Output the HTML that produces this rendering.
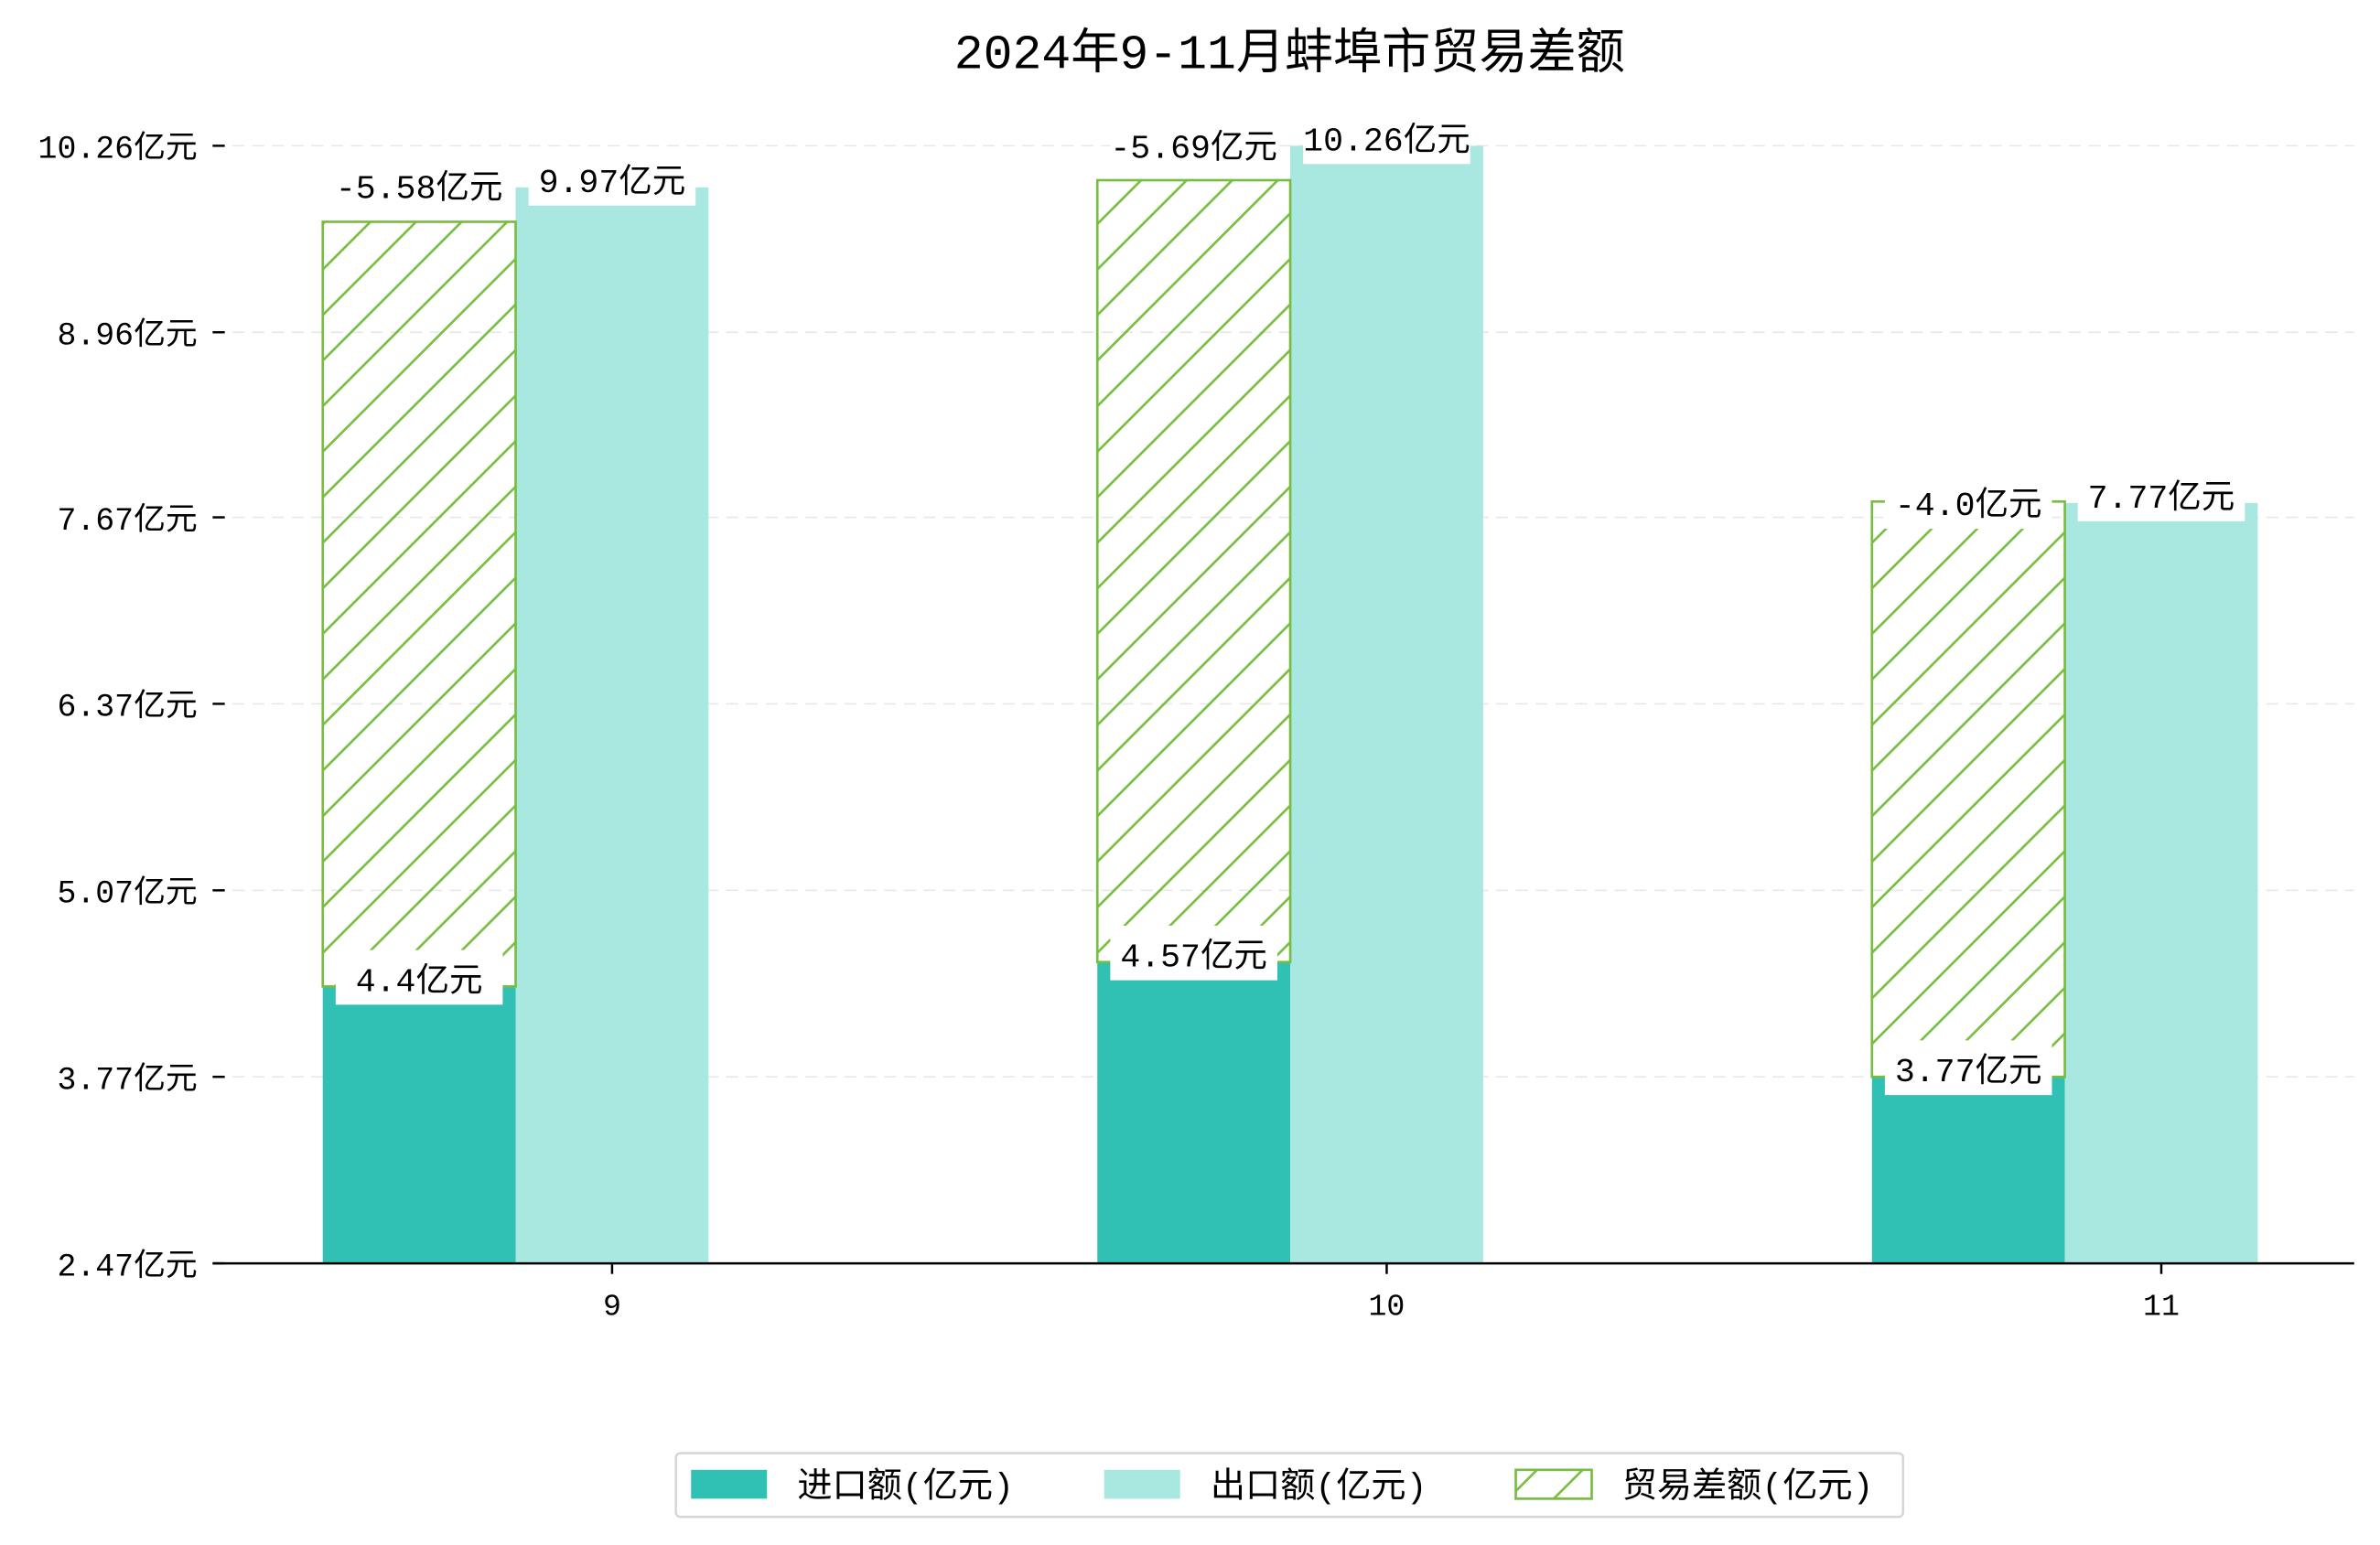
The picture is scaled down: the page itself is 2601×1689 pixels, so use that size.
<!DOCTYPE html>
<html><head><meta charset="utf-8"><style>
html,body{margin:0;padding:0;background:#fff;}
svg{display:block;font-family:"Liberation Mono","WenQuanYi Zen Hei","Noto Sans CJK SC",monospace;}
</style></head><body>
<svg id="chart" width="2601" height="1689" viewBox="0 0 1567 1017.5" preserveAspectRatio="none" xmlns="http://www.w3.org/2000/svg">
<defs>
<pattern id="hatch" patternUnits="userSpaceOnUse" width="30" height="30">
<line x1="0" y1="30" x2="30" y2="0" stroke="#77bd41" stroke-width="1.6"/>
<line x1="-15" y1="15" x2="15" y2="-15" stroke="#77bd41" stroke-width="1.6"/>
<line x1="15" y1="45" x2="45" y2="15" stroke="#77bd41" stroke-width="1.6"/>
</pattern>
</defs>
<text x="849" y="45" text-anchor="middle" font-size="32" fill="#000">2024年9-11月蚌埠市贸易差额</text>
<g id="grid"></g><g id="bars"></g><g id="labels"></g><g id="axes"></g>
<g>
<rect x="445" y="957" width="808" height="42" rx="3" fill="#fff" stroke="#d5d5d5" stroke-width="1.5"/>
<rect x="455" y="968" width="50" height="19" fill="#30c0b4"/>
<text x="525" y="986" font-size="23">进口额(亿元)</text>
<rect x="727" y="968" width="50" height="19" fill="#a9e7e1"/>
<text x="797" y="986" font-size="23">出口额(亿元)</text>
<rect x="998" y="968" width="50" height="19" fill="url(#hatch)" stroke="#77bd41" stroke-width="1.6"/>
<text x="1068" y="986" font-size="23">贸易差额(亿元)</text>
</g>
</svg>
<script>
const months = ['9','10','11'];
const importVals = [4.4, 4.57, 3.77];
const exportVals = [9.97, 10.26, 7.77];
const balanceHeights = [5.33, 5.45, 4.01];
const balanceVals = [-5.58, -5.69, -4.0];
const balanceLabels = ['-5.58', '-5.69', '-4.0'];
const yTicks = [2.47, 3.77, 5.07, 6.37, 7.67, 8.96, 10.26];

const NS = 'http://www.w3.org/2000/svg';
const yMin = 2.47, yMax = 10.26, yBot = 832, yTop = 96;
const y = v => yBot - (v - yMin) / (yMax - yMin) * (yBot - yTop);
const xC = i => 403 + i * 510;
const bw = 127;
function mk(tag, attrs, parent){const e=document.createElementNS(NS,tag);for(const k in attrs)e.setAttribute(k,attrs[k]);parent.appendChild(e);return e;}
const grid=document.getElementById('grid'),bars=document.getElementById('bars'),labels=document.getElementById('labels'),axes=document.getElementById('axes');

yTicks.forEach(t=>{
  const yy=y(t);
  if(t!==yMin){const g=mk('line',{x1:140,x2:1550,y1:yy,y2:yy,stroke:'#e8e8e8','stroke-dasharray':'8 5','stroke-width':1},grid);
  
  }
  const tk=mk('line',{x1:140,x2:148,y1:yy,y2:yy,stroke:'#000','stroke-width':1.5},axes);
  
  
  const tl=mk('text',{x:130,y:yy+8,'text-anchor':'end','font-size':21},axes);
  tl.textContent=t.toFixed(2)+'亿元';
  
  
});
const ax=mk('line',{x1:140,x2:1550,y1:yBot,y2:yBot,stroke:'#000','stroke-width':1.5},axes);



function label(cx, top, txt){
  const t=mk('text',{x:cx,y:top+3,'text-anchor':'middle','font-size':22},labels);
  t.textContent=txt;
  const w=110;
  const r=document.createElementNS(NS,'rect');
  r.setAttribute('x',cx-w/2);r.setAttribute('y',top-24);r.setAttribute('width',w);r.setAttribute('height',36);r.setAttribute('fill','#fff');
  labels.insertBefore(r,t);
  
  
  
  
}

months.forEach((m,i)=>{
  const c=xC(i);
  const ix=c-bw*1.5, ex=c-bw/2;
  const ib=mk('rect',{x:ix,y:y(importVals[i]),width:bw,height:yBot-y(importVals[i]),fill:'#30c0b4'},bars);
  
  
  const eb=mk('rect',{x:ex,y:y(exportVals[i]),width:bw,height:yBot-y(exportVals[i]),fill:'#a9e7e1'},bars);
  
  
  const top=y(importVals[i]+balanceHeights[i]);
  const hb=mk('rect',{x:ix,y:top,width:bw,height:y(importVals[i])-top,fill:'url(#hatch)',stroke:'#77bd41','stroke-width':1.6},bars);
  
  
  label(ix+bw/2, y(importVals[i]+Math.abs(balanceVals[i]))+5, balanceLabels[i]+'亿元');
  label(ex+bw/2, y(exportVals[i]), exportVals[i]+'亿元');
  label(ix+bw/2, y(importVals[i]), importVals[i]+'亿元');
  const xt=mk('line',{x1:c,x2:c,y1:yBot,y2:yBot+7,stroke:'#000','stroke-width':1.5},axes);
  
  
  const xl=mk('text',{x:c,y:866,'text-anchor':'middle','font-size':20},axes);
  xl.textContent=m;
  
  
});
</script>
</body></html>
